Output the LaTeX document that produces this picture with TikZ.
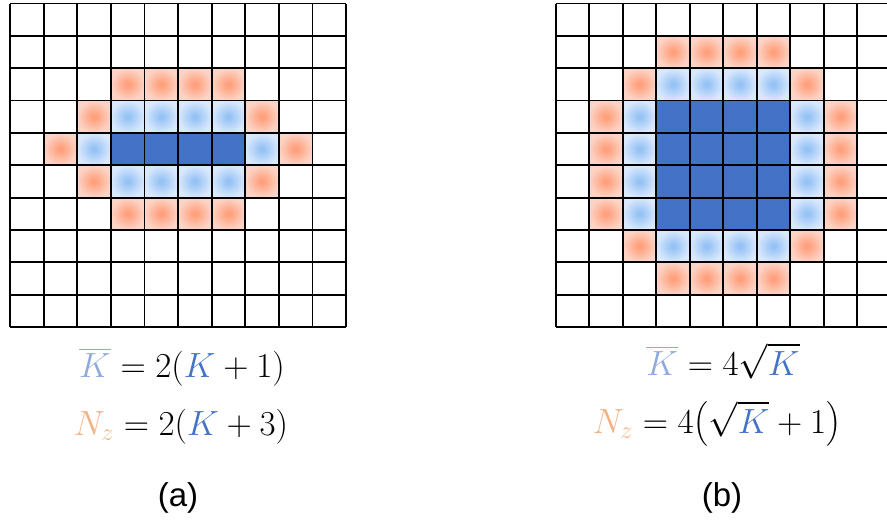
\RequirePackage{fix-cm}
\documentclass[tikz,border=0pt]{standalone}
\usepackage{amsmath}
\usepackage{fontspec}
\setsansfont{Liberation Sans}
\definecolor{darkb}{HTML}{4472C4}
\definecolor{lbc}{RGB}{150,195,245}
\definecolor{lbe}{RGB}{218,232,252}
\definecolor{orc}{RGB}{255,160,125}
\definecolor{ore}{RGB}{252,212,198}
\definecolor{kbar}{HTML}{8FAADC}
\definecolor{nzc}{HTML}{F4B183}
\pgfdeclareradialshading{lbshade}{\pgfpoint{0bp}{0bp}}{color(0bp)=(lbc); color(3bp)=(lbc); color(25bp)=(lbe); color(50bp)=(lbe)}
\pgfdeclareradialshading{orshade}{\pgfpoint{0bp}{0bp}}{color(0bp)=(orc); color(3bp)=(orc); color(25bp)=(ore); color(50bp)=(ore)}
\tikzset{
  dcell/.style={fill=darkb},
  lcell/.style={shading=lbshade},
  ocell/.style={shading=orshade},
  gridline/.style={line width=1.8pt, black},
  eqn/.style={inner sep=0pt, anchor=base, font=\fontsize{35}{40}\selectfont},
  caption/.style={inner sep=0pt, font=\sffamily\fontsize{33}{38}\selectfont}
}
\begin{document}
\begin{tikzpicture}[x=1pt,y=-1pt]
\useasboundingbox (0,0) rectangle (887,525);
\clip (0,0) rectangle (887,525);
% ---------- grid (a)
\def\ax{10}\def\aw{33.6}\def\gy{3.5}\def\gh{32.35}
\foreach \r/\c in {2/3,2/4,2/5,2/6,3/2,3/7,4/1,4/8,5/2,5/7,6/3,6/4,6/5,6/6}
  \shade[ocell] ({\ax+\c*\aw},{\gy+\r*\gh}) rectangle ++(\aw,\gh);
\foreach \r/\c in {3/3,3/4,3/5,3/6,4/2,4/7,5/3,5/4,5/5,5/6}
  \shade[lcell] ({\ax+\c*\aw},{\gy+\r*\gh}) rectangle ++(\aw,\gh);
\foreach \c in {3,4,5,6}
  \fill[dcell] ({\ax+\c*\aw},{\gy+4*\gh}) rectangle ++(\aw,\gh);
\foreach \i in {0,...,10}{
  \draw[gridline] ({\ax+\i*\aw},\gy) -- ({\ax+\i*\aw},{\gy+10*\gh});
  \draw[gridline] (\ax,{\gy+\i*\gh}) -- ({\ax+10*\aw},{\gy+\i*\gh});
}
% ---------- grid (b)
\def\bx{555.7}\def\bw{33.5}
\foreach \r/\c in {1/3,1/4,1/5,1/6,2/2,2/7,3/1,4/1,5/1,6/1,3/8,4/8,5/8,6/8,7/2,7/7,8/3,8/4,8/5,8/6}
  \shade[ocell] ({\bx+\c*\bw},{\gy+\r*\gh}) rectangle ++(\bw,\gh);
\foreach \r/\c in {2/3,2/4,2/5,2/6,3/2,4/2,5/2,6/2,3/7,4/7,5/7,6/7,7/3,7/4,7/5,7/6}
  \shade[lcell] ({\bx+\c*\bw},{\gy+\r*\gh}) rectangle ++(\bw,\gh);
\foreach \r in {3,4,5,6}
  \foreach \c in {3,4,5,6}
    \fill[dcell] ({\bx+\c*\bw},{\gy+\r*\gh}) rectangle ++(\bw,\gh);
\foreach \i in {0,...,10}{
  \draw[gridline] ({\bx+\i*\bw},\gy) -- ({\bx+\i*\bw},{\gy+10*\gh});
  \draw[gridline] (\bx,{\gy+\i*\gh}) -- ({\bx+10*\bw},{\gy+\i*\gh});
}
% ---------- equations
\node[eqn] (ea1) at (182,377) {$\textcolor{kbar}{\overline{K}} = 2(\textcolor{darkb}{K}+1)$};
\node[eqn] (ea2) at (181,435) {$\textcolor{nzc}{N_z} = 2(\textcolor{darkb}{K}+3)$};
\node[eqn] (eb1) at (723,375) {$\smash[b]{\textcolor{kbar}{\overline{K}} = 4\sqrt{\textcolor{darkb}{K}}}$};
\node[eqn] (eb2) at (717,433) {$\smash[t]{\textcolor{nzc}{N_z} = 4\bigl(\sqrt{\textcolor{darkb}{K}}+1\bigr)}$};
% ---------- captions
\node[caption] (la) at (178,498) {(a)};
\node[caption] (lb) at (722,498) {(b)};
\end{tikzpicture}
\end{document}
